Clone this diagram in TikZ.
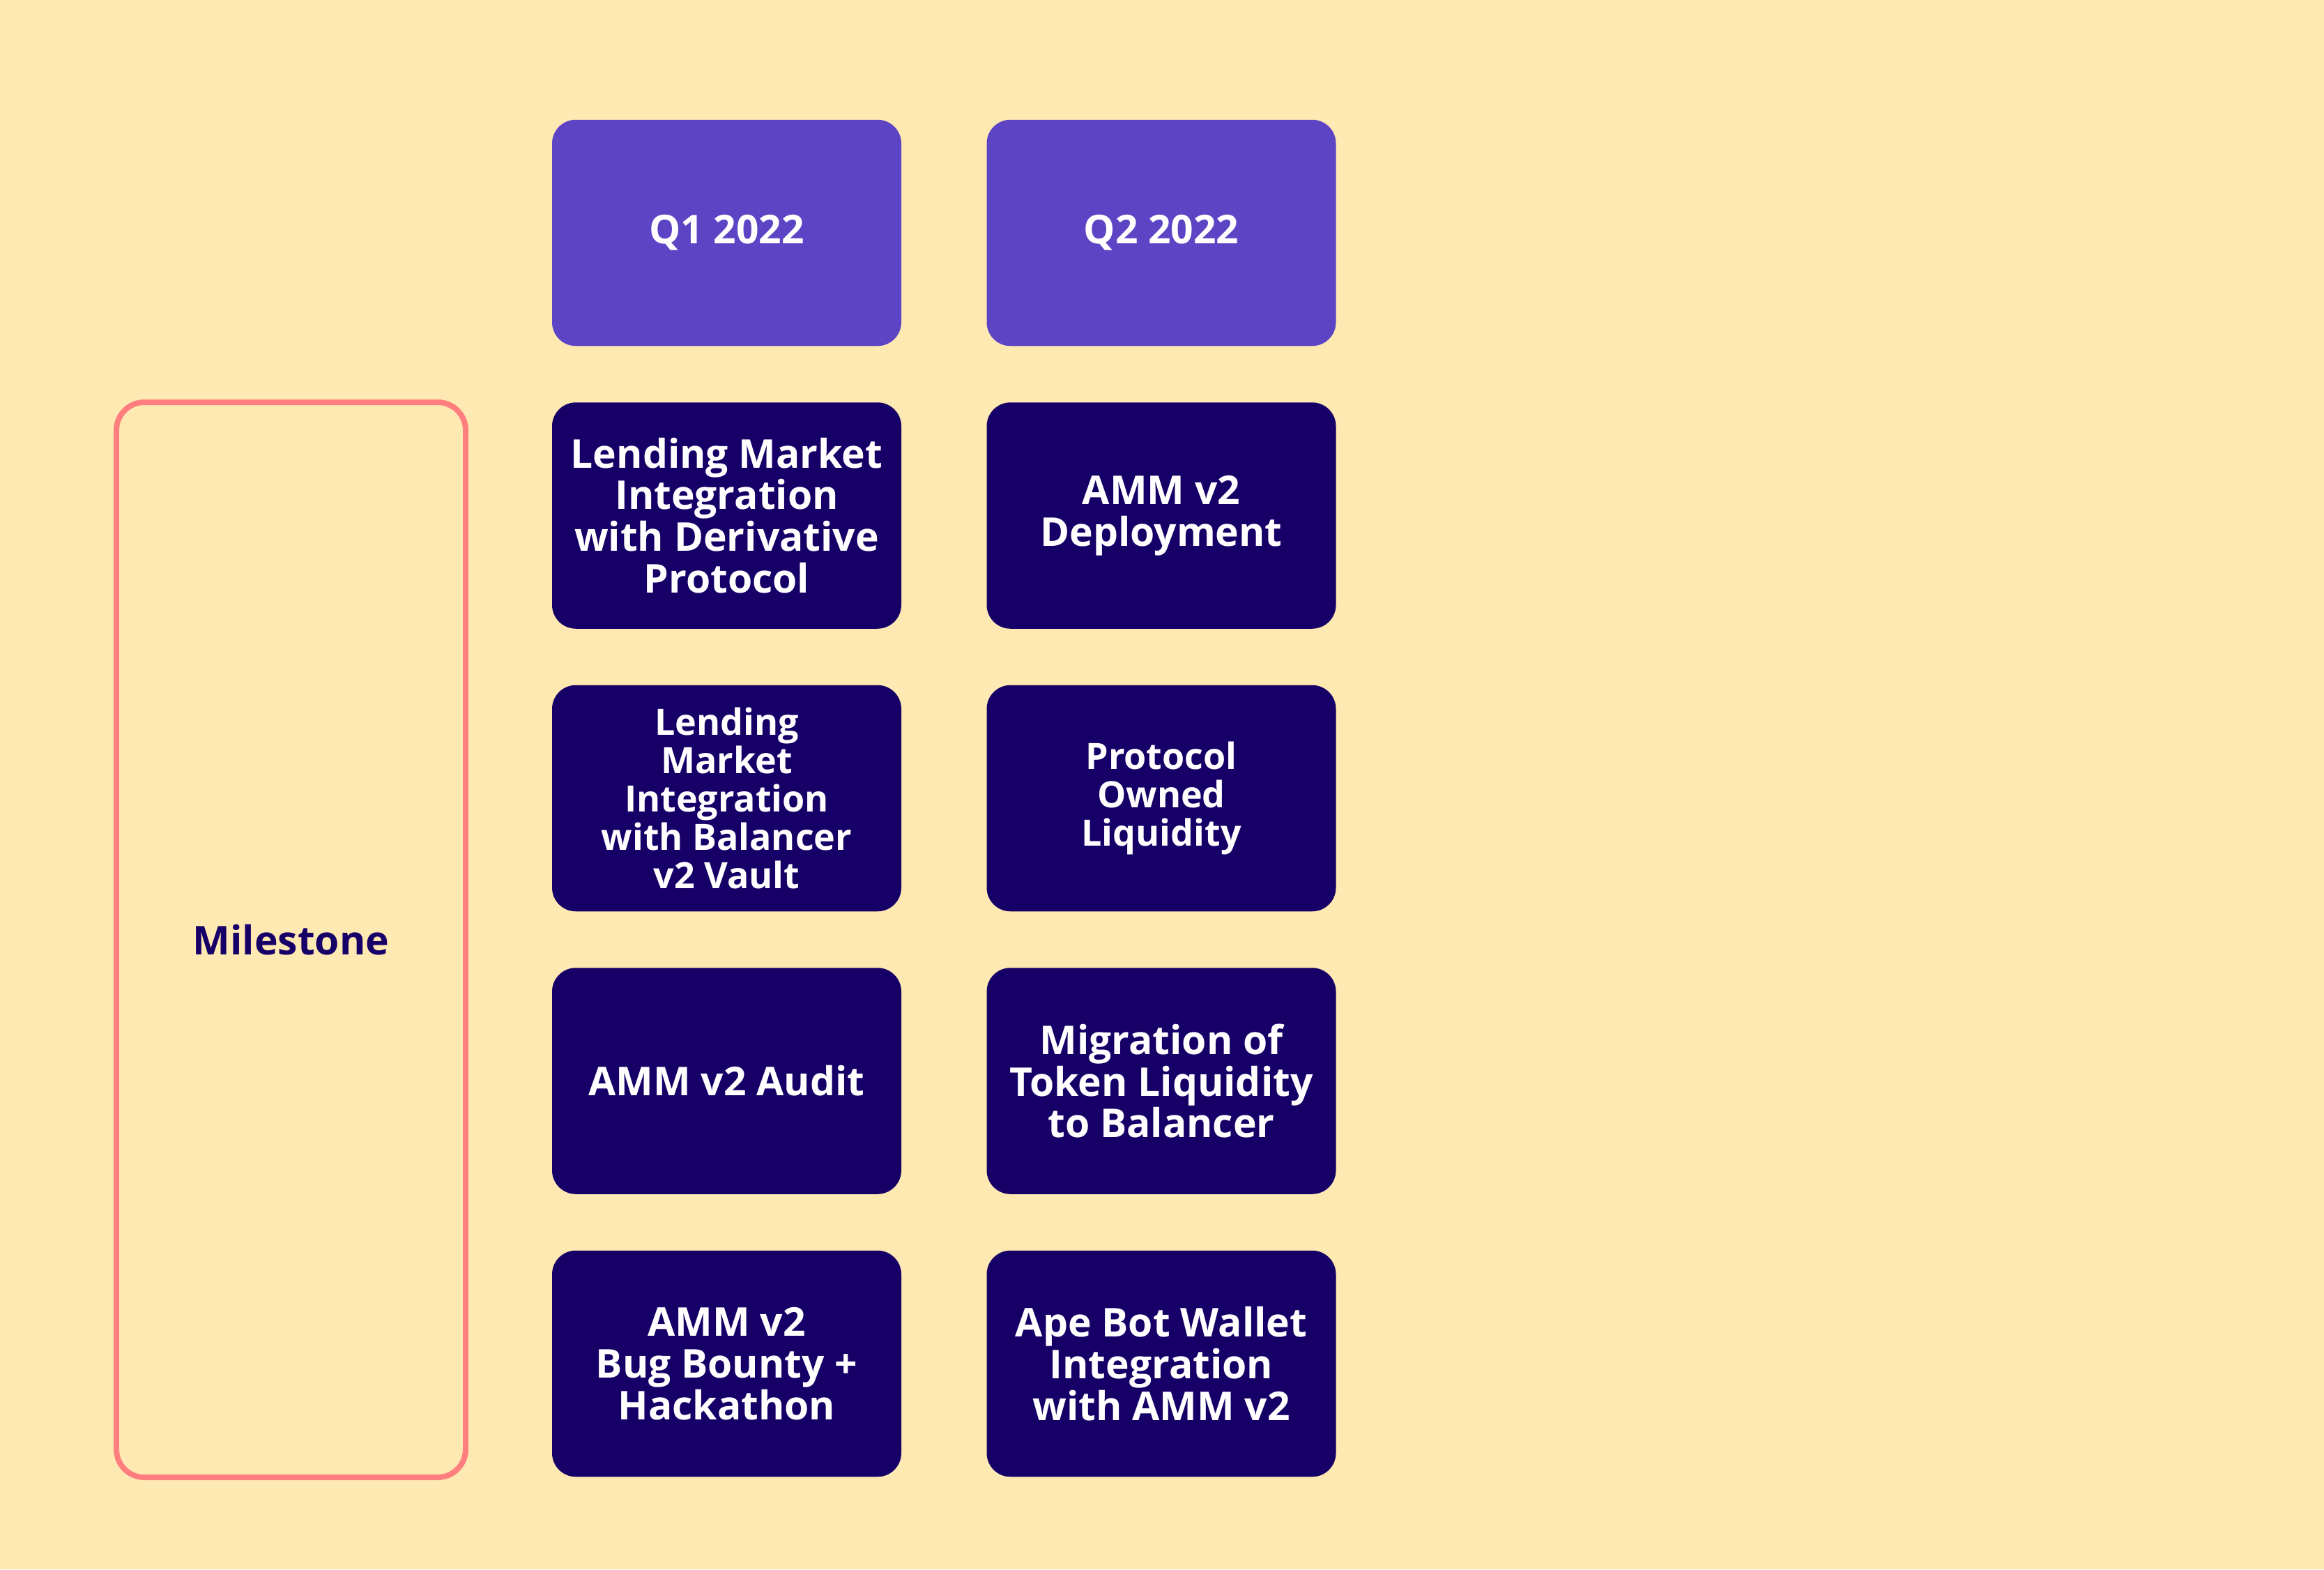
\documentclass[tikz,border=0pt]{standalone}
\usepackage{fontspec}
\setmainfont{Open Sans}
\definecolor{bgcream}{HTML}{FFE9B2}
\definecolor{qpurple}{HTML}{5C44C4}
\definecolor{tasknavy}{HTML}{160068}
\definecolor{milepink}{HTML}{FF7F7F}
\tikzset{
  card/.style={rounded corners=0.34cm, minimum width=5.01cm, minimum height=3.245cm,
    inner sep=0pt, align=center, text=white,
    font=\fontsize{16.2pt}{17pt}\selectfont\bfseries},
  quarter/.style={card, fill=qpurple},
  task/.style={card, fill=tasknavy},
  smalltext/.style={font=\fontsize{14.8pt}{15.6pt}\selectfont\bfseries},
  milestone/.style={draw=milepink, line width=2.27pt, rounded corners=0.4cm,
    minimum width=5.01cm, minimum height=15.42cm, inner sep=0pt, text=tasknavy,
    font=\fontsize{16.2pt}{17pt}\selectfont\bfseries}
}

\begin{document}
\begin{tikzpicture}
  \fill[bgcream] (0,0) rectangle (33.34,-22.51);
  \useasboundingbox (0,0) rectangle (33.34,-22.51);

  \node[milestone] (mile) at (4.175,-13.48) {Milestone};

  \node[quarter] (q1) at (10.425,-3.34) {Q1 2022};
  \node[quarter] (q2) at (16.66,-3.34) {Q2 2022};

  % Q1 2022
  \node[task] (q1a) at (10.425,-7.395) {Lending Market\\Integration\\with Derivative\\Protocol};
  \node[task, smalltext] (q1b) at (10.425,-11.45) {Lending\\Market\\Integration\\with Balancer\\v2 Vault};
  \node[task] (q1c) at (10.425,-15.505) {AMM v2 Audit};
  \node[task] (q1d) at (10.425,-19.56) {AMM v2\\Bug Bounty +\\Hackathon};

  % Q2 2022
  \node[task] (q2a) at (16.66,-7.395) {AMM v2\\Deployment};
  \node[task, smalltext] (q2b) at (16.66,-11.45) {Protocol\\Owned\\Liquidity};
  \node[task] (q2c) at (16.66,-15.505) {Migration of\\Token Liquidity\\to Balancer};
  \node[task] (q2d) at (16.66,-19.56) {Ape Bot Wallet\\Integration\\with AMM v2};
\end{tikzpicture}
\end{document}
